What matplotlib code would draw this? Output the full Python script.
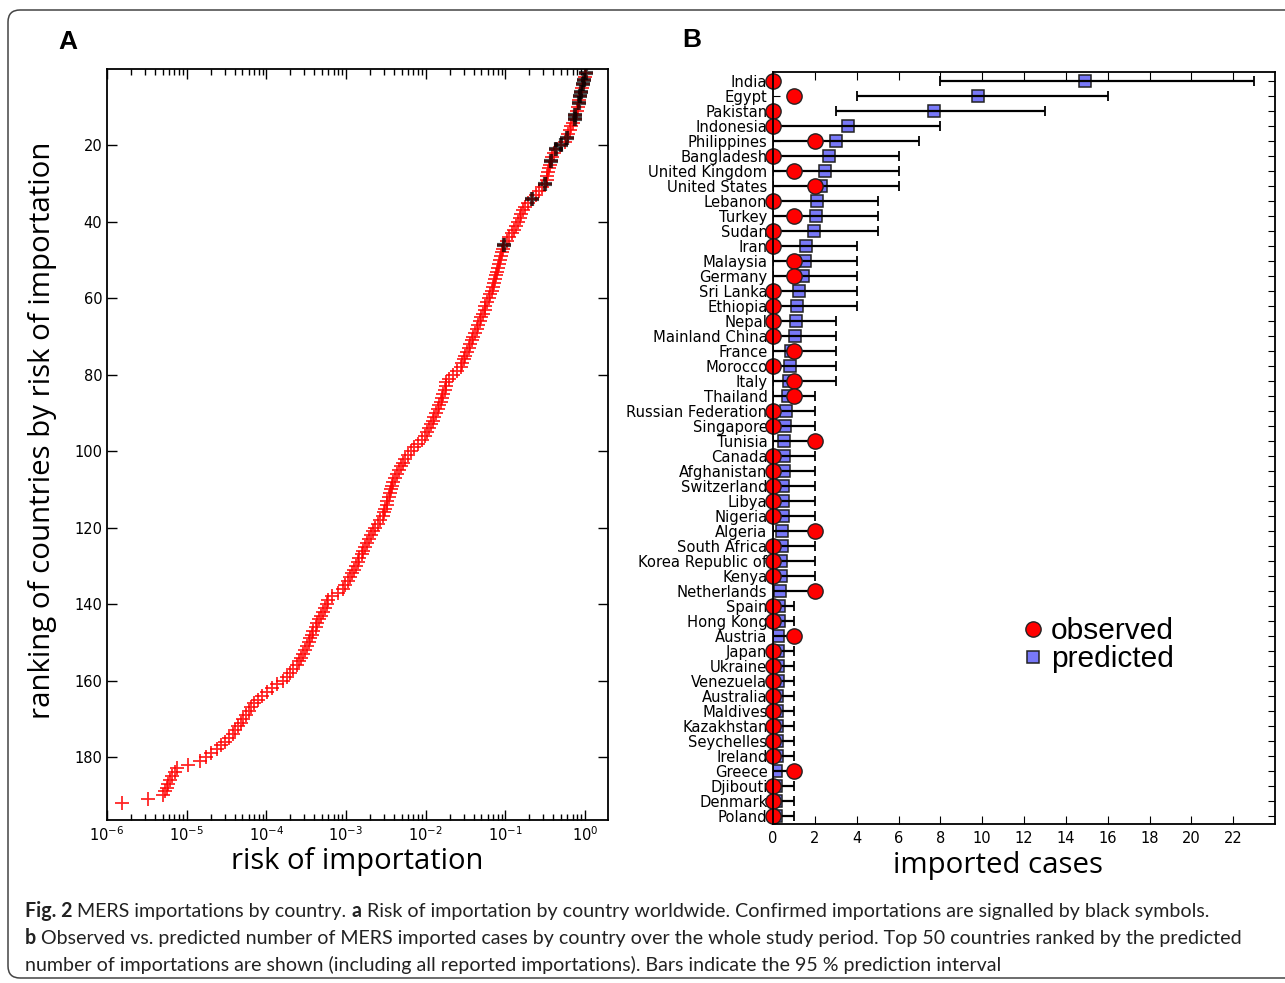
import numpy as np
import matplotlib
matplotlib.use('Agg')
import matplotlib.pyplot as plt
from matplotlib.patches import FancyBboxPatch
from matplotlib.transforms import IdentityTransform
from matplotlib import font_manager

# ---- panel A: log10 risk of importation, countries ranked 1..192 ----
log_risk = [
    0.02, 0.00, -0.01, -0.02, -0.04, -0.05, -0.06, -0.07, -0.08, -0.09, -0.10, -0.12, -0.13,
    -0.15, -0.17, -0.19, -0.21, -0.23, -0.25,
    -0.30, -0.36, -0.39, -0.41, -0.42,
    -0.44, -0.45, -0.46, -0.47, -0.48, -0.50,
    -0.54, -0.58, -0.62, -0.67,
    -0.71, -0.75, -0.78,
    -0.80, -0.82, -0.84, -0.86,
    -0.89, -0.92, -0.95, -0.98, -1.01,
    -1.03, -1.04, -1.05, -1.06, -1.08, -1.09,
    -1.10, -1.12, -1.13, -1.14, -1.16, -1.17, -1.19,
    -1.21, -1.23, -1.25, -1.26, -1.28,
    -1.30, -1.32, -1.34, -1.36, -1.38, -1.40,
    -1.42, -1.44, -1.46, -1.48, -1.50, -1.52, -1.54, -1.56,
    -1.61, -1.66, -1.71, -1.74,
    -1.75, -1.76, -1.78, -1.80, -1.81, -1.83, -1.85, -1.87, -1.89,
    -1.91, -1.93, -1.96, -1.98, -2.01, -2.04,
    -2.09, -2.14, -2.18, -2.22, -2.26,
    -2.29, -2.31, -2.33, -2.36, -2.38, -2.41,
    -2.42, -2.44, -2.45, -2.46, -2.48, -2.49, -2.51, -2.52, -2.54,
    -2.57, -2.60, -2.63, -2.66,
    -2.68, -2.71, -2.73, -2.76, -2.78, -2.80, -2.83,
    -2.85, -2.88, -2.90, -2.93, -2.95, -2.98, -3.01, -3.04,
    -3.10, -3.17, -3.22,
    -3.24, -3.26, -3.29, -3.31, -3.34, -3.36, -3.38, -3.41, -3.43,
    -3.45, -3.47, -3.49, -3.52, -3.54, -3.56, -3.59, -3.62,
    -3.66, -3.70, -3.74, -3.79,
    -3.87, -3.93, -3.99, -4.05, -4.11,
    -4.15, -4.19, -4.22, -4.26, -4.29,
    -4.32, -4.36, -4.39, -4.42,
    -4.47, -4.52, -4.57, -4.62,
    -4.69, -4.76, -4.83,
    -4.98, -5.12,
    -5.15, -5.18, -5.21, -5.23, -5.25, -5.27, -5.30,
    -5.49, -5.81,
]
confirmed_ranks = [1, 3, 4, 6, 7, 9, 12, 13, 18, 20, 21, 24, 30, 34, 46]

# ---- panel B: top 50 countries by predicted importations ----
countries = ['India', 'Egypt', 'Pakistan', 'Indonesia', 'Philippines', 'Bangladesh',
             'United Kingdom', 'United States', 'Lebanon', 'Turkey', 'Sudan', 'Iran',
             'Malaysia', 'Germany', 'Sri Lanka', 'Ethiopia', 'Nepal', 'Mainland China',
             'France', 'Morocco', 'Italy', 'Thailand', 'Russian Federation', 'Singapore',
             'Tunisia', 'Canada', 'Afghanistan', 'Switzerland', 'Libya', 'Nigeria',
             'Algeria', 'South Africa', 'Korea Republic of', 'Kenya', 'Netherlands',
             'Spain', 'Hong Kong', 'Austria', 'Japan', 'Ukraine', 'Venezuela',
             'Australia', 'Maldives', 'Kazakhstan', 'Seychelles', 'Ireland', 'Greece',
             'Djibouti', 'Denmark', 'Poland']
observed = [0, 1, 0, 0, 2, 0, 1, 2, 0, 1, 0, 0, 1, 1, 0, 0, 0, 0, 1, 0, 1, 1, 0, 0, 2,
            0, 0, 0, 0, 0, 2, 0, 0, 0, 2, 0, 0, 1, 0, 0, 0, 0, 0, 0, 0, 0, 1, 0, 0, 0]
predicted = [14.9, 9.8, 7.7, 3.6, 3.0, 2.7, 2.5, 2.3, 2.1, 2.05, 1.95, 1.6, 1.55, 1.45,
             1.25, 1.15, 1.1, 1.05, 0.85, 0.8, 0.75, 0.7, 0.62, 0.57, 0.53, 0.52, 0.52,
             0.48, 0.47, 0.46, 0.43, 0.42, 0.38, 0.37, 0.33, 0.3, 0.3, 0.25, 0.24, 0.23,
             0.22, 0.21, 0.21, 0.2, 0.18, 0.18, 0.16, 0.16, 0.15, 0.15]
pi_low = [8, 4, 3] + [0] * 47
pi_high = [23, 16, 13, 8, 7, 6, 6, 6, 5, 5, 5, 4, 4, 4, 4, 4, 3, 3, 3, 3, 3, 2, 2, 2, 2,
           2, 2, 2, 2, 2, 2, 2, 2, 2, 2, 1, 1, 1, 1, 1, 1, 1, 1, 1, 1, 1, 1, 1, 1, 1]


def has_font(name):
    try:
        font_manager.findfont(name, fallback_to_default=False)
        return True
    except ValueError:
        return False


label_font = 'Open Sans' if has_font('Open Sans') else 'DejaVu Sans'
cap_font = 'Lato' if has_font('Lato') else 'DejaVu Sans'
arial = 'Liberation Sans' if has_font('Liberation Sans') else 'DejaVu Sans'

plt.rcParams['font.family'] = 'DejaVu Sans'
plt.rcParams['mathtext.default'] = 'regular'

fig = plt.figure(figsize=(12.85, 9.83), dpi=100)
W, H = 1285, 983


def px_axes(x0, y0, x1, y1):
    return fig.add_axes([x0 / W, 1 - y1 / H, (x1 - x0) / W, (y1 - y0) / H])


# ---------------- panel A ----------------
axA = px_axes(107, 69, 608, 820)
ranks = np.arange(1, len(log_risk) + 1)
risk = 10 ** np.array(log_risk)
axA.plot(risk, ranks, '+', color='red', ms=10.5, mew=1.3, alpha=0.85, ls='none')
conf = np.array(confirmed_ranks)
axA.plot(risk[conf - 1], conf, '+', color='black', ms=10.5, mew=3, alpha=0.7, ls='none')
axA.set_xscale('log')
axA.set_xlim(1e-6, 1.95)
axA.set_ylim(196.5, 0)
axA.set_yticks(range(20, 181, 20))
axA.set_xticks([1e-6, 1e-5, 1e-4, 1e-3, 1e-2, 1e-1, 1e0])
axA.tick_params(which='both', direction='in', top=True, right=True, labelsize=10.5)
axA.tick_params(which='major', length=7, width=1)
axA.tick_params(which='minor', length=4, width=1)
for s in axA.spines.values():
    s.set_linewidth(1.3)

# ---------------- panel B ----------------
axB = px_axes(773, 72, 1275, 824)
ypos = np.arange(len(countries))
pred = np.array(predicted)
lo = pred - np.array(pi_low)
hi = np.array(pi_high) - pred
axB.plot(pred, ypos, 's', ms=8.5, mfc='#7878f8', mec='#222222', mew=1.1,
         ls='none', zorder=2, label='predicted')
axB.errorbar(pred, ypos, xerr=[lo, hi], fmt='none', ecolor='black', elinewidth=1.6,
             capsize=3.5, capthick=1.3, zorder=2.1)
axB.plot(observed, ypos, 'o', ms=11, mfc='red', mec='#222222', mew=1,
         ls='none', zorder=2.2, label='observed', clip_on=False)
axB.set_xlim(0, 24)
axB.set_ylim(49.55, -0.6)
axB.set_xticks(range(0, 23, 2))
axB.set_yticks(ypos)
axB.set_yticklabels(countries)
axB.tick_params(which='both', direction='in', top=True, right=True, labelsize=10.5)
axB.tick_params(axis='y', labelsize=10.6, pad=4, length=5)
axB.tick_params(axis='x', length=6, pad=5)
for s in axB.spines.values():
    s.set_linewidth(1.3)

hs, ls_ = axB.get_legend_handles_labels()
leg = axB.legend([hs[1], hs[0]], [ls_[1], ls_[0]], loc='upper left',
                 bbox_to_anchor=(0.44, 0.311), frameon=False, numpoints=1,
                 handlelength=0.8, handletextpad=0.2, labelspacing=0.0,
                 prop={'family': arial, 'size': 21.5})

# ---------------- labels ----------------
fig.text(68 / W, 1 - 42 / H, 'A', fontsize=19, fontweight='bold', family=arial,
         ha='center', va='center')
fig.text(692 / W, 1 - 40 / H, 'B', fontsize=19, fontweight='bold', family=arial,
         ha='center', va='center')
fig.text(43 / W, 1 - 430 / H, 'ranking of countries by risk of importation',
         rotation=90, fontsize=21.2, family=label_font, ha='center', va='center')
fig.text(357 / W, 1 - 861 / H, 'risk of importation', fontsize=21, family=label_font,
         ha='center', va='center')
fig.text(998 / W, 1 - 866 / H, 'imported cases', fontsize=21.2, family=label_font,
         ha='center', va='center')

# ---------------- caption ----------------
caption = [
    [('Fig. 2', True), (' MERS importations by country. ', False), ('a', True),
     (' Risk of importation by country worldwide. Confirmed importations are signalled by black symbols.', False)],
    [('b', True),
     (' Observed vs. predicted number of MERS imported cases by country over the whole study period. Top 50 countries ranked by the predicted', False)],
    [('number of importations are shown (including all reported importations). Bars indicate the 95 % prediction interval', False)],
]
renderer = fig.canvas.get_renderer()


def line_width(line, size):
    total = 0
    for txt, bold in line:
        t = fig.text(0, 0, txt, fontsize=size, family=cap_font,
                     fontweight='bold' if bold else 'normal')
        total += t.get_window_extent(renderer).width
        t.remove()
    return total


# the second caption line runs from x=25 to x=1242 in the reference
cap_size = 14 * (1242 - 25) / line_width(caption[1], 14)
for i, line in enumerate(caption):
    x = 25
    y = 917 + 27 * i
    for txt, bold in line:
        t = fig.text(x / W, 1 - y / H, txt, fontsize=cap_size, family=cap_font,
                     fontweight='bold' if bold else 'normal', color='#222222',
                     ha='left', va='baseline')
        x += t.get_window_extent(renderer).width

# rounded frame round the whole figure
frame = FancyBboxPatch((8, 5), 1300, 968, boxstyle='round,pad=0,rounding_size=12',
                       transform=IdentityTransform(), fill=False, ec='#444444', lw=1.1)
fig.add_artist(frame)

fig.savefig('out.png', dpi=100)
